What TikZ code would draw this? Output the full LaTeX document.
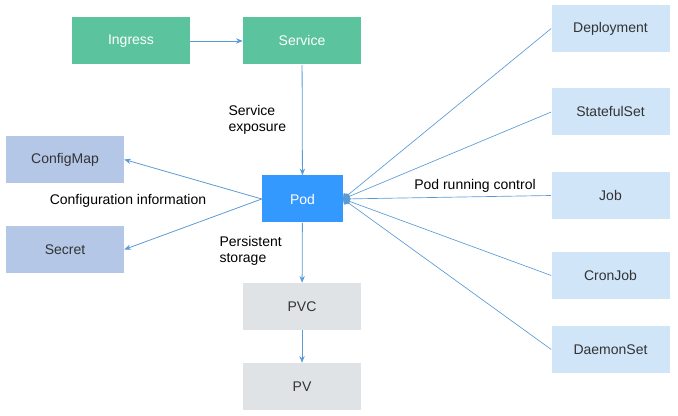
\documentclass[tikz,border=0pt]{standalone}
\usepackage{fontspec}
\setmainfont{Liberation Sans}
\usetikzlibrary{arrows.meta,positioning}
\definecolor{kgreen}{HTML}{5BC49F}
\definecolor{kpod}{HTML}{3399FF}
\definecolor{kconf}{HTML}{B4C7E7}
\definecolor{kctrl}{HTML}{D0E5F8}
\definecolor{kstore}{HTML}{E0E3E5}
\definecolor{kline}{HTML}{5B9BD5}
\tikzset{
        box/.style={rectangle, inner sep=0pt, minimum width=88.5pt, minimum height=35.25pt, font=\fontsize{10.5}{12}\selectfont},
        % Entry nodes
        node_entry/.style={box, fill=kgreen, text=white},
        % Pod node
        node_pod/.style={box, fill=kpod, text=white, minimum width=60.75pt},
        % Config nodes
        node_conf/.style={box, fill=kconf, text=black!80},
        % Controller nodes
        node_ctrl/.style={box, fill=kctrl, text=black!80},
        % Storage nodes
        node_store/.style={box, fill=kstore, text=black!80},
        lbl/.style={font=\fontsize{10.5}{12.5}\selectfont, align=left, inner sep=1pt},
        conn/.style={draw=kline, line width=0.6pt, -{Stealth[length=5pt,width=4pt]}},
        ctrl/.style={draw=kline, line width=0.5pt, -{Diamond[length=6pt,width=6pt]}}
}
\begin{document}
\begin{tikzpicture}[x=0.75pt, y=-0.75pt]
    \useasboundingbox (0,0) rectangle (678,416);
    \node[node_entry] (ingress) at (131,41) {Ingress};
    \node[node_entry] (service) at (302,41) {Service};
    \node[node_pod] (pod) at (302.5,199) {Pod};
    \node[node_conf] (configmap) at (65,159.5) {ConfigMap};
    \node[node_conf] (secret) at (65,249.5) {Secret};
    \node[node_store] (pvc) at (302,306.5) {PVC};
    \node[node_store] (pv) at (302,386.5) {PV};
    \node[node_ctrl] (deployment) at (610.5,28.5) {Deployment};
    \node[node_ctrl] (statefulset) at (610.5,112) {StatefulSet};
    \node[node_ctrl] (job) at (610.5,195.5) {Job};
    \node[node_ctrl] (cronjob) at (610.5,275.5) {CronJob};
    \node[node_ctrl] (daemonset) at (610.5,349.5) {DaemonSet};
    \coordinate (hub) at (343,199);

    \draw[conn] (ingress) -- (service);
    \draw[conn] (service) -- (pod);
    \draw[conn] (pod.west) -- (configmap.east);
    \draw[conn] (pod.west) -- (secret.east);
    \draw[conn] (pod) -- (pvc);
    \draw[conn] (pvc) -- (pv);
    \foreach \c in {deployment,statefulset,job,cronjob,daemonset}
        \draw[ctrl] (\c.west) -- (hub);

    \node[lbl, anchor=west] (lexpose) at (227,120) {Service\\exposure};
    \node[lbl] (lconf) at (128,201) {Configuration information};
    \node[lbl, anchor=west] (lstore) at (218,251) {Persistent\\storage};
    \node[lbl] (lrun) at (475,186) {Pod running control};
\end{tikzpicture}
\end{document}
